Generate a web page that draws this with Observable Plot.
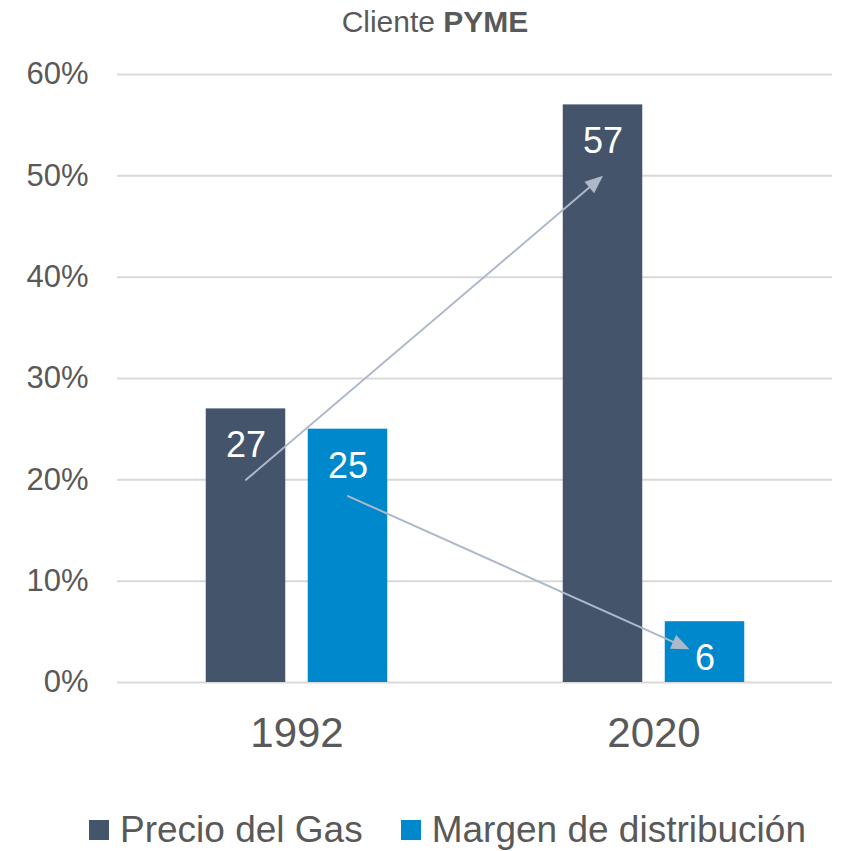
<!DOCTYPE html>
<html><head><meta charset="utf-8">
<script src="https://cdn.jsdelivr.net/npm/d3@7"></script>
<script src="https://cdn.jsdelivr.net/npm/@observablehq/plot@0.6"></script>
<style>
body{margin:0;background:#fff;font-family:"Liberation Sans",Arial,sans-serif;color:#595959;}
#title{height:44px;line-height:44px;text-align:center;font-size:30px;padding-left:29px;}
#title b{font-weight:bold;}
#chart svg{display:block;}
#legend{display:flex;align-items:center;height:112px;padding-left:89px;font-size:37px;white-space:nowrap;}
.sw{display:inline-block;width:20px;height:20px;margin-right:11px;flex-shrink:0;}
.item{display:flex;align-items:center;margin-right:38px;flex-shrink:0;white-space:nowrap;}
</style></head><body>
<div id="title">Cliente <b>PYME</b></div>
<div id="chart"></div>
<div id="legend"></div>
<script>
const years = ["1992", "2020"];
const seriesNames = ["Precio del Gas", "Margen de distribución"];
const precioGas = [27, 57];
const margenDistribucion = [25, 6];
const seriesColors = ["#44546a", "#0088cc"];
const yTicks = [0, 10, 20, 30, 40, 50, 60];
// arrows: start (1992) and end (2020) levels, in %
const arrowStart = [20, 18.4];
const arrowEnd = [50, 2.6];

const precioRows = years.map((y, i) => ({year: y, value: precioGas[i]}));
const margenRows = years.map((y, i) => ({year: y, value: margenDistribucion[i]}));
const arrow1 = [{from: years[0], to: years[1], y1: arrowStart[0], y2: arrowEnd[0]}];
const arrow2 = [{from: years[0], to: years[1], y1: arrowStart[1], y2: arrowEnd[1]}];

const W = 841, H = 730, ML = 117, MR = 9;
const band = (W - ML - MR) / years.length;
const barW = 80, off = 51;
const inset = (band - barW) / 2;
const arrowColor = "#adb9ca";

// draws a filled triangular arrowhead at the end of each arrow
function filledHead(insetEnd) {
  return (index, scales, values, dims, context, next) => {
    const g = next(index, scales, values, dims, context);
    const {x1: X1, y1: Y1, x2: X2, y2: Y2} = values;
    for (const i of index) {
      const ddx = X2[i] - X1[i], ddy = Y2[i] - Y1[i], L = Math.hypot(ddx, ddy);
      const ux = ddx / L, uy = ddy / L;
      const tx = X2[i] - ux * insetEnd, ty = Y2[i] - uy * insetEnd;
      const bx = tx - ux * 18, by = ty - uy * 18;
      const pts = [[tx, ty], [bx - uy * 7.5, by + ux * 7.5], [bx + uy * 7.5, by - ux * 7.5]];
      const poly = document.createElementNS("http://www.w3.org/2000/svg", "polygon");
      poly.setAttribute("points", pts.map(p => p.join(",")).join(" "));
      poly.setAttribute("fill", arrowColor);
      poly.setAttribute("stroke", "none");
      g.appendChild(poly);
    }
    return g;
  };
}

const chart = Plot.plot({
  width: W, height: H,
  marginLeft: ML, marginRight: MR, marginTop: 30, marginBottom: H - 638,
  style: {fontFamily: '"Liberation Sans", Arial, sans-serif', color: "#595959", background: "white"},
  x: {domain: years, padding: 0},
  y: {domain: [0, 60]},
  marks: [
    Plot.gridY({ticks: yTicks, stroke: "#d9d9d9", strokeOpacity: 1, strokeWidth: 2}),
    Plot.axisY({ticks: yTicks, tickSize: 0, tickPadding: 29, fontSize: 31, tickFormat: d => d + "%", label: null}),
    Plot.axisX({tickSize: 0, tickPadding: 35, fontSize: 42, label: null}),
    Plot.barY(precioRows, {x: "year", y: "value", fill: seriesColors[0], insetLeft: inset, insetRight: inset, dx: -off}),
    Plot.barY(margenRows, {x: "year", y: "value", fill: seriesColors[1], insetLeft: inset, insetRight: inset, dx: off}),
    Plot.text(precioRows, {x: "year", y: "value", text: d => String(d.value), fill: "white", fontSize: 36, dy: 37, dx: -off}),
    Plot.text(margenRows, {x: "year", y: "value", text: d => String(d.value), fill: "white", fontSize: 36, dy: 37, dx: off}),
    Plot.arrow(arrow1, {x1: "from", x2: "to", y1: "y1", y2: "y2", stroke: arrowColor, strokeWidth: 2, headLength: 0, insetEnd: 10, dx: -off, render: filledHead(0)}),
    Plot.arrow(arrow2, {x1: "from", x2: "to", y1: "y1", y2: "y2", stroke: arrowColor, strokeWidth: 2, headLength: 0, insetEnd: 27, dx: off, render: filledHead(17)})
  ]
});
document.getElementById("chart").appendChild(chart);

const legend = document.getElementById("legend");
seriesNames.forEach((name, i) => {
  const item = document.createElement("div");
  item.className = "item";
  const sw = document.createElement("span");
  sw.className = "sw";
  sw.style.background = seriesColors[i];
  item.appendChild(sw);
  item.appendChild(document.createTextNode(name));
  legend.appendChild(item);
});
</script>
</body></html>
